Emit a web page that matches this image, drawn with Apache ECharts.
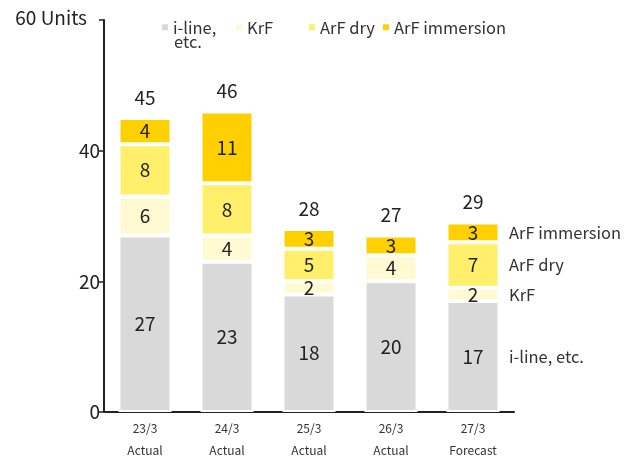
<!DOCTYPE html>
<html>
<head>
<meta charset="utf-8">
<script src="https://cdn.jsdelivr.net/npm/echarts@6/dist/echarts.min.js"></script>
<style>
  html, body { margin: 0; padding: 0; background: #fff; }
  #chart { width: 633px; height: 463px; }
</style>
</head>
<body>
<div id="chart"></div>
<script>
// categories and values
const categories = ['23/3\nActual', '24/3\nActual', '25/3\nActual', '26/3\nActual', '27/3\nForecast']
const iLine = [27, 23, 18, 20, 17]
const krf = [6, 4, 2, 4, 2]
const arfDry = [8, 8, 5, 0, 7]
const arfImmersion = [4, 11, 3, 3, 3]
const totals = [45, 46, 28, 27, 29]
const seriesNames = ['i-line, etc.', 'KrF', 'ArF dry', 'ArF immersion']
const seriesData = [iLine, krf, arfDry, arfImmersion]
const colors = ['#d9d9d9', '#fffad2', '#ffef6a', '#ffd000']
const yMin = 0
const yMax = 60
const yInterval = 20

const font = '"Noto Sans CJK JP", "Noto Sans", sans-serif'
const chart = echarts.init(document.getElementById('chart'))

const last = categories.length - 1
// label on the right of the last bar, centred on each segment
const sideLabel = (k) => {
  let below = 0
  for (let j = 0; j < k; j++) below += seriesData[j][last]
  return {
    symbol: 'circle',
    symbolSize: 0,
    data: [{ coord: [categories[last], below + seriesData[k][last] / 2], value: seriesNames[k] }],
    label: {
      show: true,
      position: 'right',
      distance: 36,
      formatter: seriesNames[k],
      fontFamily: font,
      fontSize: 16.5,
      color: '#333'
    }
  }
}

const legendLeft = [155, 229, 302, 376]

const option = {
  animation: false,
  textStyle: { fontFamily: font },
  grid: { left: 104, right: 119, top: 20, bottom: 51 },
  legend: seriesNames.map((n, i) => ({
    data: [n],
    left: legendLeft[i],
    top: 14,
    icon: 'rect',
    itemWidth: 8,
    itemHeight: 8,
    itemGap: 4,
    selectedMode: false,
    formatter: (name) => name === 'i-line, etc.' ? 'i-line,' : name,
    textStyle: { fontFamily: font, fontSize: 16.5, color: '#333', padding: [0, 0, 0, -1] }
  })),
  graphic: [{
    type: 'text',
    left: 174,
    top: 33,
    style: { text: 'etc.', fontFamily: font, fontSize: 16.5, fill: '#333' }
  }],
  xAxis: {
    type: 'category',
    data: categories,
    axisLine: { lineStyle: { color: '#222', width: 2 } },
    axisTick: { show: false },
    axisLabel: { fontSize: 12, color: '#333', lineHeight: 22, margin: 5, fontFamily: font }
  },
  yAxis: {
    type: 'value',
    min: yMin,
    max: yMax,
    interval: yInterval,
    axisLine: { show: true, lineStyle: { color: '#222', width: 2 } },
    axisTick: { show: true, length: 5, lineStyle: { color: '#222', width: 1.5 } },
    splitLine: { show: false },
    axisLabel: {
      fontSize: 19,
      color: '#222',
      margin: 4,
      fontFamily: font,
      formatter: (v) => v === 60 ? '{u|60 Units}' : String(v),
      rich: { u: { fontSize: 19, color: '#222', fontFamily: font, padding: [0, 13, 4, 0] } }
    }
  },
  series: [
    ...seriesNames.map((name, k) => ({
      name,
      type: 'bar',
      stack: 'total',
      barWidth: 53,
      data: seriesData[k],
      itemStyle: { color: colors[k], borderColor: '#fff', borderWidth: 2 },
      label: {
        show: true,
        position: 'inside',
        fontFamily: font,
        fontSize: 19,
        color: '#222',
        formatter: (p) => p.value === 0 ? '' : String(p.value)
      },
      markPoint: sideLabel(k)
    })),
    {
      name: 'total',
      type: 'bar',
      stack: 'total',
      barWidth: 53,
      data: totals.map(() => 0),
      itemStyle: { color: 'transparent' },
      label: {
        show: true,
        position: 'top',
        distance: 11,
        fontFamily: font,
        fontSize: 19,
        color: '#222',
        formatter: (p) => String(totals[p.dataIndex])
      }
    }
  ]
}

chart.setOption(option)
</script>
</body>
</html>
